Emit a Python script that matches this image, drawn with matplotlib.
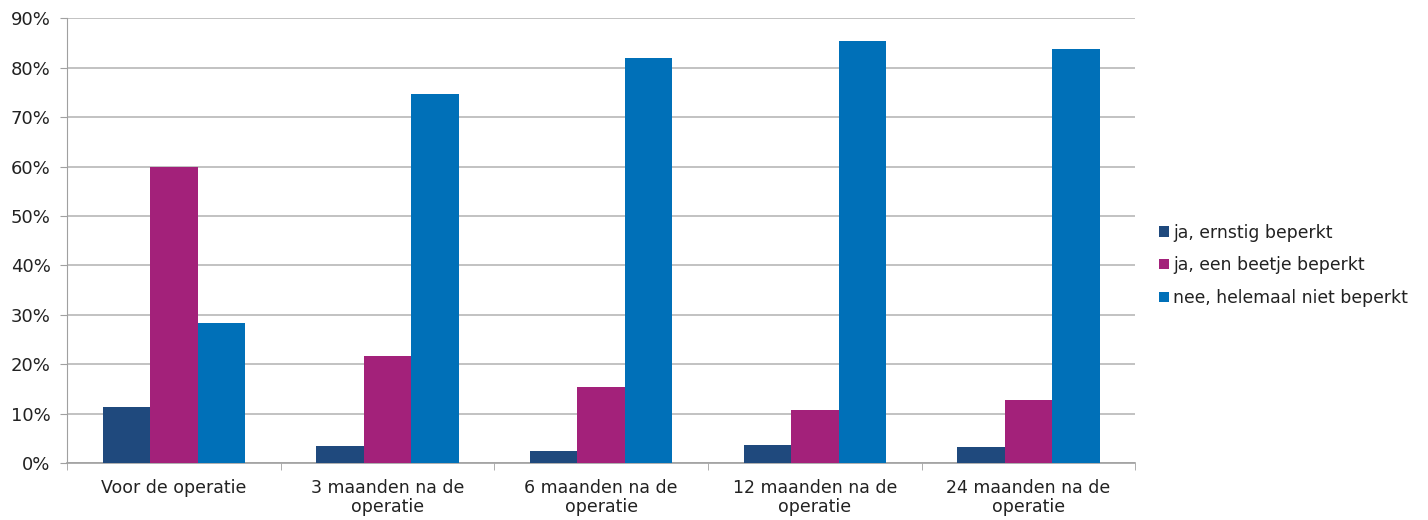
import numpy as np
import matplotlib.pyplot as plt
from matplotlib.ticker import PercentFormatter

# Data
categories = ['Voor de operatie', '3 maanden na de\noperatie', '6 maanden na de\noperatie',
              '12 maanden na de\noperatie', '24 maanden na de\noperatie']
series_names = ['ja, ernstig beperkt', 'ja, een beetje beperkt', 'nee, helemaal niet beperkt']
ernstig = [11.4, 3.6, 2.5, 3.7, 3.4]
beetje = [60.0, 21.6, 15.4, 10.7, 12.8]
niet = [28.4, 74.6, 81.9, 85.4, 83.7]
colors = ['#1F497D', '#A3217A', '#0070B8']

plt.rcParams['font.family'] = 'DejaVu Sans'

fig = plt.figure(figsize=(14.28, 5.2), dpi=100)
ax = fig.add_axes([0.047, 0.109, 0.748, 0.856])

x = np.arange(len(categories))
w = 0.222
for i, (vals, name, c) in enumerate(zip([ernstig, beetje, niet], series_names, colors)):
    ax.bar(x + (i - 1) * w, vals, width=w, color=c, label=name, zorder=3)

ax.set_xlim(-0.5, len(categories) - 0.5)
ax.set_ylim(0, 90)
ax.set_yticks(np.arange(0, 91, 10))
ax.yaxis.set_major_formatter(PercentFormatter(decimals=0))
ax.set_xticks(x)
ax.set_xticklabels(categories, fontsize=12.5, color='#222222', linespacing=1.1)
ax.set_xticks(np.arange(-0.5, len(categories), 1), minor=True)
ax.tick_params(axis='x', which='major', length=0, pad=11)
ax.tick_params(axis='x', which='minor', length=5, color='#A0A0A0')
ax.tick_params(axis='y', labelsize=13, labelcolor='#222222', length=5, color='#A0A0A0', pad=7)

ax.grid(axis='y', color='#B8B8B8', linewidth=1.2, zorder=0)
for s in ['top', 'right']:
    ax.spines[s].set_visible(False)
ax.spines['left'].set_color('#A0A0A0')
ax.spines['bottom'].set_color('#A0A0A0')
ax.spines['bottom'].set_linewidth(1.2)

fig.legend(loc='center left', bbox_to_anchor=(0.801, 0.49), frameon=False,
           fontsize=12.4, handlelength=0.55, handleheight=0.55, handletextpad=0.25,
           labelspacing=0.85, labelcolor='#222222')

fig.savefig('out.png', dpi=100)
